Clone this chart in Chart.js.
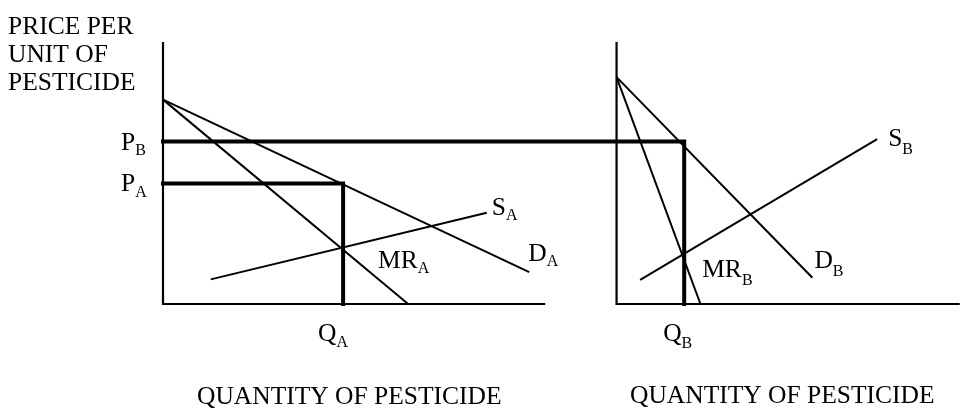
<!DOCTYPE html>
<html>
<head>
<meta charset="utf-8">
<script src="https://cdn.jsdelivr.net/npm/chart.js@4"></script>
<style>
  body { margin: 0; background: #fff; }
</style>
</head>
<body>
<canvas id="myChart" width="971" height="409"></canvas>
<script>
// market A (left panel)
const qA = 68.7;
const pA = 46;
const demandA = [[0, 78], [139.7, 12.2]];
const mrA = [[0, 78], [93.5, 0]];
const supplyA = [[18.2, 9.4], [123.5, 34.8]];
const axisA = [[0, 100], [0, 0], [145.8, 0]];

// market B (right panel)
const qB = 25.8;
const pB = 62;
const demandB = [[0, 86.6], [74.7, 10]];
const mrB = [[0, 86.6], [32, 0]];
const supplyB = [[9, 9.2], [99.4, 62.9]];
const axisB = [[0, 100], [0, 0], [130.9, 0]];

// both panels share one plot area, each with its own quantity scale
const xAMax = 304;
const xBMin = -173;
const xBMax = 131;
const yMax = 100;

const yTitle = ['PRICE PER', 'UNIT OF', 'PESTICIDE'];
const xTitle = 'QUANTITY OF PESTICIDE';

const FONT = '"Liberation Serif", "Times New Roman", serif';

function seg(points, axis, width) {
    return {
        data: points.map(p => ({ x: p[0], y: p[1] })),
        xAxisID: axis,
        borderColor: '#000',
        borderWidth: width,
        borderCapStyle: width > 3 ? 'square' : 'butt',
        showLine: true,
        pointRadius: 0,
        clip: false
    };
}

const labels = {
    id: 'labels',
    afterDraw(chart) {
        const ctx = chart.ctx;
        const xa = chart.scales.xA, xb = chart.scales.xB, y = chart.scales.y;
        ctx.save();
        ctx.fillStyle = '#000';
        ctx.textBaseline = 'alphabetic';

        function sub(main, s, x, yb, dy) {
            ctx.font = '25.5px ' + FONT;
            ctx.fillText(main, x, yb);
            const w = ctx.measureText(main).width;
            ctx.font = '16px ' + FONT;
            ctx.fillText(s, x + w, yb + dy);
        }

        // y axis title
        ctx.font = '25.5px ' + FONT;
        yTitle.forEach((t, i) => ctx.fillText(t, 8, 34 + i * 28));

        // x axis titles
        ctx.fillText(xTitle, 197, 404);
        ctx.fillText(xTitle, 630, 403);

        const x0 = xa.getPixelForValue(0);
        const y0 = y.getPixelForValue(0);

        sub('P', 'B', x0 - 42, y.getPixelForValue(pB) + 8, 5);
        sub('P', 'A', x0 - 42, y.getPixelForValue(pA) + 8, 6);
        sub('Q', 'A', xa.getPixelForValue(qA) - 25, y0 + 37, 6);
        sub('Q', 'B', xb.getPixelForValue(qB) - 21, y0 + 37, 7);

        const sa = supplyA[1], da = demandA[1];
        sub('S', 'A', xa.getPixelForValue(sa[0]) + 5, y.getPixelForValue(sa[1]) + 2, 5);
        sub('D', 'A', xa.getPixelForValue(da[0]) - 1, y.getPixelForValue(da[1]) - 11, 5);
        sub('MR', 'A', xa.getPixelForValue(qA) + 35, y0 - 36, 5);

        const sb = supplyB[1], db = demandB[1];
        sub('S', 'B', xb.getPixelForValue(sb[0]) + 11, y.getPixelForValue(sb[1]) + 7, 8);
        sub('D', 'B', xb.getPixelForValue(db[0]) + 2, y.getPixelForValue(db[1]) - 10, 8);
        sub('MR', 'B', xb.getPixelForValue(qB) + 18, y0 - 27, 8);

        ctx.restore();
    }
};

const ctx = document.getElementById('myChart');

new Chart(ctx, {
    type: 'scatter',
    data: {
        datasets: [
            seg(axisA, 'xA', 2.2),
            seg(demandA, 'xA', 2),
            seg(mrA, 'xA', 2),
            seg(supplyA, 'xA', 2),
            seg([[0, pA], [qA, pA], [qA, 0]], 'xA', 4),
            seg(axisB, 'xB', 2.2),
            seg(demandB, 'xB', 2),
            seg(mrB, 'xB', 2),
            seg(supplyB, 'xB', 2),
            seg([[xBMin, pB], [qB, pB], [qB, 0]], 'xB', 4)
        ]
    },
    options: {
        responsive: false,
        animation: false,
        layout: { padding: { left: 163, right: 11, top: 42, bottom: 105 } },
        plugins: { legend: { display: false }, tooltip: { enabled: false } },
        scales: {
            xA: { type: 'linear', position: 'bottom', min: 0, max: xAMax, display: false },
            xB: { type: 'linear', position: 'bottom', min: xBMin, max: xBMax, display: false },
            y: { type: 'linear', min: 0, max: yMax, display: false }
        }
    },
    plugins: [labels]
});
</script>
</body>
</html>
